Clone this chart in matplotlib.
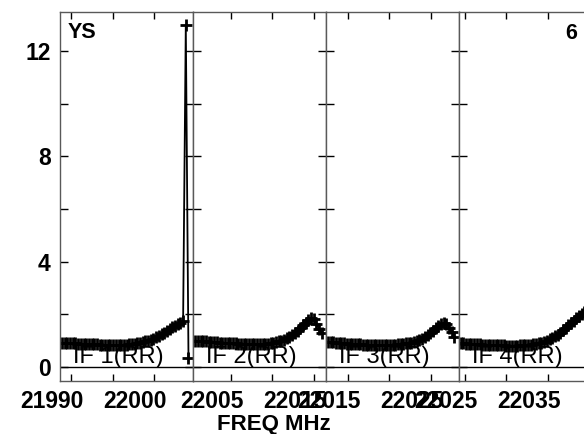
import numpy as np
import matplotlib.pyplot as plt

plt.rcParams['font.family'] = ['Liberation Sans', 'DejaVu Sans']

# IF bands (left edge of each panel in MHz) and channel layout
if_names = ['IF 1(RR)', 'IF 2(RR)', 'IF 3(RR)', 'IF 4(RR)']
if_low = [21988.64, 22000.48, 22012.38, 22024.24]
panel_span = 16.06
chan_start = 0.24
chan_step = 0.325

# amplitude per channel (48 channels per IF)
if1 = [0.92, 0.92, 0.91, 0.91, 0.90, 0.90, 0.89, 0.89, 0.88, 0.88, 0.87, 0.87,
       0.86, 0.86, 0.85, 0.85, 0.84, 0.84, 0.84, 0.83, 0.83, 0.83, 0.84, 0.84,
       0.85, 0.86, 0.87, 0.88, 0.90, 0.92, 0.94, 0.97, 1.00, 1.04, 1.08, 1.13,
       1.19, 1.25, 1.31, 1.38, 1.45, 1.51, 1.57, 1.62, 1.68, 1.75, 13.0, 0.35]
if2 = [1.00, 0.99, 0.98, 0.98, 0.97, 0.96, 0.95, 0.95, 0.94, 0.93, 0.93, 0.92,
       0.91, 0.91, 0.90, 0.90, 0.89, 0.89, 0.88, 0.88, 0.88, 0.87, 0.87, 0.87,
       0.87, 0.88, 0.88, 0.89, 0.90, 0.92, 0.94, 0.97, 1.00, 1.04, 1.09, 1.14,
       1.20, 1.28, 1.37, 1.47, 1.58, 1.69, 1.79, 1.87, 1.82, 1.65, 1.45, 1.30]
if3 = [0.96, 0.95, 0.94, 0.93, 0.92, 0.91, 0.90, 0.89, 0.88, 0.87, 0.87, 0.86,
       0.86, 0.85, 0.85, 0.84, 0.84, 0.84, 0.83, 0.83, 0.83, 0.83, 0.84, 0.84,
       0.85, 0.85, 0.86, 0.87, 0.88, 0.90, 0.91, 0.93, 0.96, 0.99, 1.03, 1.08,
       1.14, 1.21, 1.29, 1.38, 1.47, 1.56, 1.63, 1.67, 1.62, 1.50, 1.33, 1.15]
if4 = [0.90, 0.90, 0.89, 0.89, 0.88, 0.87, 0.87, 0.86, 0.85, 0.85, 0.84, 0.84,
       0.83, 0.83, 0.82, 0.82, 0.82, 0.81, 0.81, 0.81, 0.81, 0.81, 0.82, 0.82,
       0.83, 0.84, 0.85, 0.86, 0.88, 0.90, 0.93, 0.96, 1.00, 1.05, 1.10, 1.16,
       1.23, 1.31, 1.40, 1.49, 1.58, 1.67, 1.76, 1.85, 1.94, 2.02, 2.10, 2.17]
amps = [if1, if2, if3, if4]

x_ticks = [[21990, 21995, 22000], [22005, 22010, 22015],
           [22015, 22020, 22025], [22025, 22030, 22035, 22040]]
x_labels = [['21990', '', '22000'], ['22005', '', '22015'],
            ['22015', '', '22025'], ['22025', '', '22035', '']]
y_major = [0, 4, 8, 12]
y_minor = [2, 6, 10]

W, H = 584, 434
fig = plt.figure(figsize=(W / 100, H / 100), dpi=100)

lefts = [60, 193.3, 326, 458.7]
for k in range(4):
    ax = fig.add_axes([lefts[k] / W, 53 / H, 133 / W, 369 / H])
    freq = if_low[k] + chan_start + chan_step * np.arange(len(amps[k]))
    ax.plot(freq, amps[k], color='black', lw=1.3, marker='+', ms=8, mew=2)
    ax.axhline(0, color='black', lw=1)
    ax.set_xlim(if_low[k], if_low[k] + panel_span)
    ax.set_ylim(-0.53, 13.48)

    ax.set_xticks(x_ticks[k])
    ax.set_xticklabels([])
    ax.set_yticks(y_major)
    ax.set_yticks(y_minor, minor=True)
    ax.tick_params(which='both', direction='in', top=True, right=True,
                   colors='black', width=1)
    ax.tick_params(axis='y', which='both', length=5.8)
    ax.tick_params(axis='x', which='both', length=5)
    if k == 0:
        ax.set_yticklabels([str(v) for v in y_major], fontsize=16.5,
                           fontweight='bold')
        ax.tick_params(axis='y', pad=6.7)
    else:
        ax.set_yticklabels([])
    for s in ax.spines.values():
        s.set_color('0.35')
        s.set_linewidth(1)

    # frequency labels sit a bit left of their ticks
    for t, lab in zip(x_ticks[k], x_labels[k]):
        if lab:
            ax.annotate(lab, xy=(t, 0), xycoords=('data', 'axes fraction'),
                        xytext=(-13.7, -19.4), textcoords='offset points',
                        ha='center', va='baseline', fontsize=16.5,
                        fontweight='bold', annotation_clip=False)

    ax.annotate(if_names[k], xy=(0.5, 0.049), xycoords='axes fraction',
                xytext=(-5.8, 0), textcoords='offset points',
                ha='center', va='baseline', fontsize=17)

fig.text(68 / W, 1 - 38 / H, 'YS', fontsize=15.5, fontweight='bold',
         ha='left', va='baseline')
fig.text(577 / W, 1 - 39 / H, '6', fontsize=15.5, fontweight='bold',
         ha='right', va='baseline')
fig.text(274 / W, 1 - 430 / H, 'FREQ MHz', fontsize=16, fontweight='bold',
         ha='center', va='baseline')

fig.savefig('out.png', dpi=100)
